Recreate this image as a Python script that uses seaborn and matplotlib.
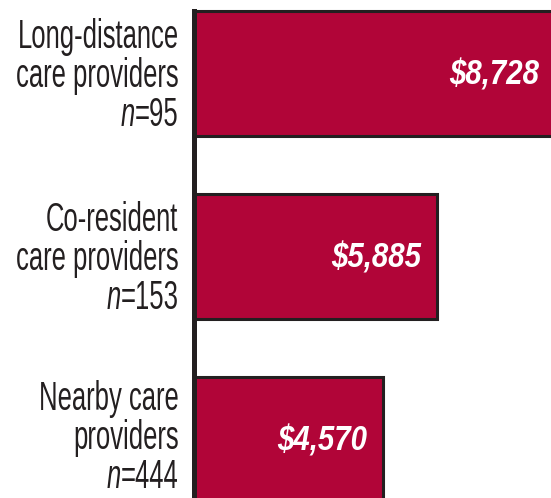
import matplotlib
matplotlib.use("Agg")
import matplotlib.pyplot as plt
import seaborn as sns
import pandas as pd
import os
import tempfile
from matplotlib import font_manager

categories = ["Long-distance\ncare providers", "Co-resident\ncare providers", "Nearby care\nproviders"]
sample_sizes = [95, 153, 444]
values = [8728, 5885, 4570]
value_labels = ["$8,728", "$5,885", "$4,570"]

BAR_COLOR = "#B10538"
INK = "#231F20"

# ---- condensed fonts: horizontally scaled copies of Liberation Sans ----
files = font_manager.findSystemFonts()
def find(name):
    for f in files:
        if os.path.basename(f).lower() == name.lower():
            return f
    return None

tmpdir = tempfile.mkdtemp()

def make_condensed(src, sx, newname):
    from fontTools.ttLib import TTFont
    f = TTFont(src)
    glyf = f["glyf"]
    order = f.getGlyphOrder()
    for gname in order:
        g = glyf[gname]
        if g.isComposite():
            for c in g.components:
                c.x = int(round(c.x * sx))
        elif g.numberOfContours > 0:
            g.coordinates.scale((sx, 1.0))
            g.coordinates.toInt()
    for gname in order:
        try:
            glyf[gname].recalcBounds(glyf)
        except Exception:
            pass
    hmtx = f["hmtx"]
    for gname, (adv, lsb) in list(hmtx.metrics.items()):
        hmtx.metrics[gname] = (int(round(adv * sx)), int(round(lsb * sx)))
    for tag in ["hdmx", "LTSH", "VDMX"]:
        if tag in f:
            del f[tag]
    if "kern" in f:
        for st in f["kern"].kernTables:
            try:
                for k in list(st.kernTable):
                    st.kernTable[k] = int(round(st.kernTable[k] * sx))
            except Exception:
                pass
    for rec in f["name"].names:
        if rec.nameID in (1, 4, 16):
            rec.string = newname
        elif rec.nameID == 6:
            rec.string = newname.replace(" ", "")
    dst = os.path.join(tmpdir, newname.replace(" ", "") + ".ttf")
    f.save(dst)
    font_manager.fontManager.addfont(dst)
    return dst

def get_font(src_name, sx, newname, fallback):
    src = find(src_name)
    if src:
        try:
            return make_condensed(src, sx, newname)
        except Exception:
            pass
    return find(fallback)

reg = get_font("LiberationSans-Regular.ttf", 0.64, "CondReg", "DejaVuSansCondensed.ttf")
ital = get_font("LiberationSans-Italic.ttf", 0.64, "CondItal", "DejaVuSansCondensed-Oblique.ttf")
bi = get_font("LiberationSans-BoldItalic.ttf", 0.84, "CondBoldItal", "DejaVuSansCondensed-BoldOblique.ttf")

sns.set_theme(style="white")
plt.rcParams["font.family"] = ["Liberation Sans", "DejaVu Sans"]

def fp(path, size):
    if path:
        return font_manager.FontProperties(fname=path, size=size)
    return font_manager.FontProperties(family="Liberation Sans", size=size)

# ---- chart ----
df = pd.DataFrame({"cat": categories, "val": values})

fig = plt.figure(figsize=(5.51, 4.98), dpi=100)
ax = fig.add_axes([193.5 / 551, 0, 1 - 193.5 / 551, 1])

sns.barplot(data=df, x="val", y="cat", orient="h", color=BAR_COLOR, saturation=1,
            width=0.68, edgecolor=INK, linewidth=2.2, ax=ax)

ax.set_xlim(0, 8635)
ax.set_ylim(2.3197, -0.4016)
ax.set_xlabel("")
ax.set_ylabel("")
ax.set_xticks([])
ax.set_yticks([])
for s in ["top", "right", "bottom"]:
    ax.spines[s].set_visible(False)
ax.spines["left"].set_color(INK)
ax.spines["left"].set_linewidth(3.6)
ax.spines["left"].set_bounds(2.3197, -0.34)

LS = 28.8          # label size (pt)
XOFF = -15         # px from the axis
baselines = [25.0, -14.0, -52.5]   # px offsets of the three label lines from bar centre
block_shift = [0, 0, 4]            # last block nudged up to stay inside the figure
for i, (cat, n) in enumerate(zip(categories, sample_sizes)):
    sh = block_shift[i]
    lines = cat.split("\n")
    for line, dy in zip(lines, baselines[:2]):
        ax.annotate(line, xy=(0, i), xycoords=("axes fraction", "data"),
                    xytext=(XOFF, dy + sh), textcoords="offset pixels",
                    ha="right", va="baseline", fontproperties=fp(reg, LS),
                    color=INK, annotation_clip=False)
    eq = ax.annotate("=" + str(n), xy=(0, i), xycoords=("axes fraction", "data"),
                     xytext=(XOFF, baselines[2] + sh), textcoords="offset pixels",
                     ha="right", va="baseline", fontproperties=fp(reg, LS),
                     color=INK, annotation_clip=False)
    ax.annotate("n", xy=(0, 0), xycoords=eq, xytext=(0, 0), textcoords="offset pixels",
                ha="right", va="bottom", fontproperties=fp(ital, LS),
                color=INK, annotation_clip=False)

for i, (v, lab) in enumerate(zip(values, value_labels)):
    ax.annotate(lab, xy=(v, i), xycoords="data", xytext=(-16, -11.5),
                textcoords="offset pixels", ha="right", va="baseline",
                fontproperties=fp(bi, 25.2),
                color="white", annotation_clip=False)

fig.savefig("out.png", dpi=100)
